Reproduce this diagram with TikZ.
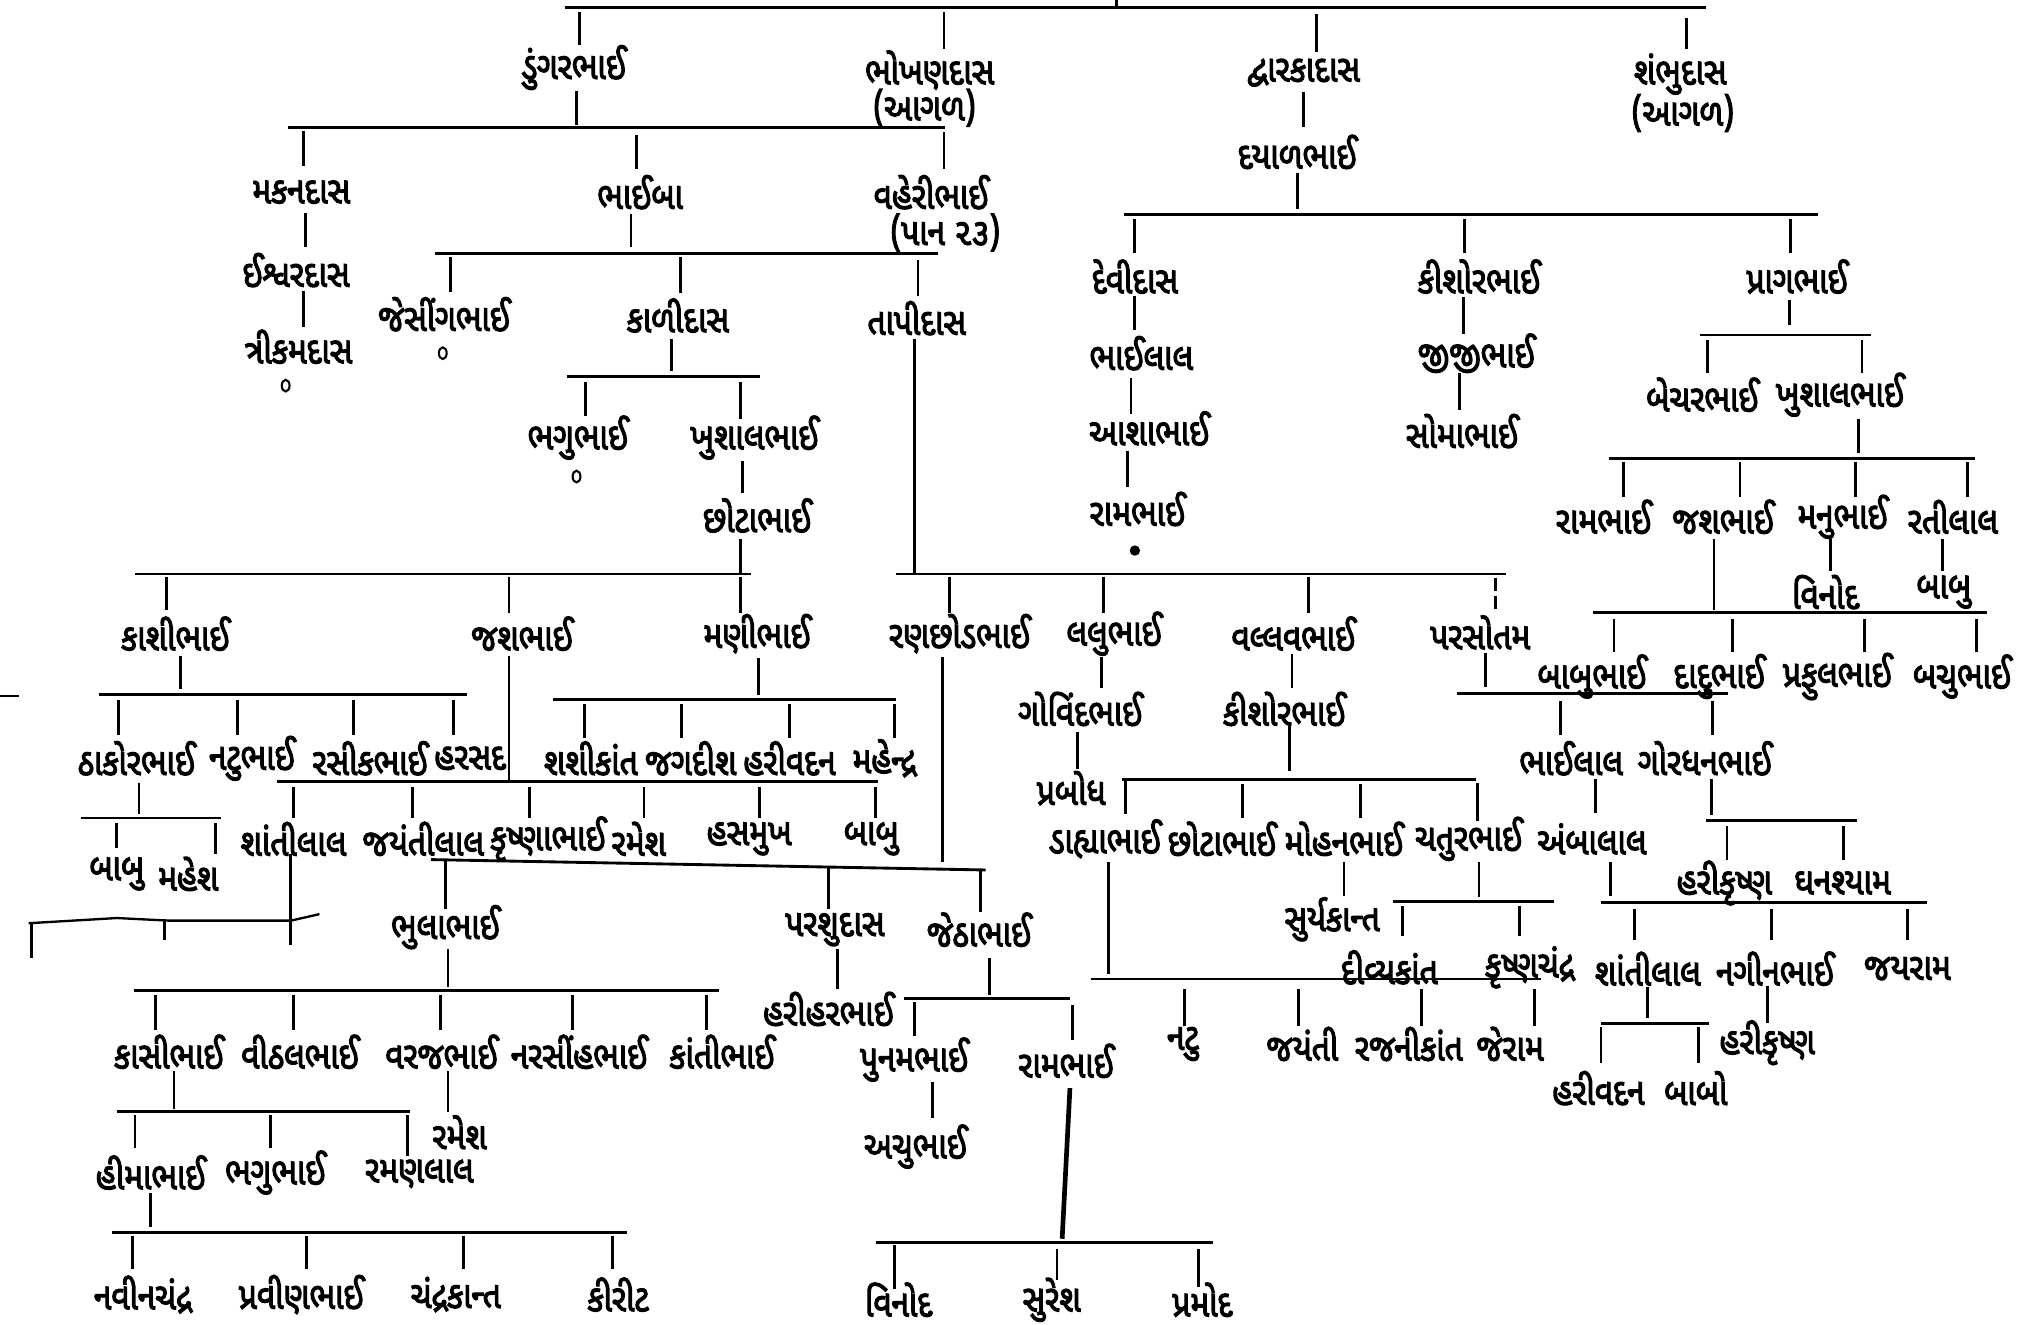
\documentclass[tikz,border=0pt]{standalone}
\usepackage{fontspec}
\newfontfamily\guj[Script=Gujarati,FakeBold=3,FakeStretch=0.84]{Noto Sans Gujarati UI}
\usetikzlibrary{shapes.geometric}
\tikzset{
  nm/.style={font=\guj\fontsize{29}{31}\selectfont, inner sep=0pt},
  ln/.style={line width=2.2pt, line cap=butt},
  zero/.style={draw, ellipse, line width=1.6pt, minimum width=6pt, minimum height=9pt, inner sep=0pt},
  blob/.style={fill, circle, minimum size=8pt, inner sep=0pt},
}
\newcommand{\vln}[3]{\draw[ln] (#1,#2) -- (#1,#3);}
\newcommand{\hln}[3]{\draw[ln] (#2,#1) -- (#3,#1);}
\begin{document}
\begin{tikzpicture}[x=1pt,y=-1pt]
\fill[white] (0,0) rectangle (1568,1020);
\useasboundingbox (0,0) rectangle (1568,1020);

% ---------- top ----------
\draw[ln] (860,0) -- (860,6);
\hln{6}{435}{1314}
\vln{446}{9}{35} \vln{727}{9}{38} \vln{1014}{11}{40} \vln{1299}{14}{38}
\node[nm] (dungar) at (442,52) {ડુંગરભાઈ};
\node[nm] (bhikhan) at (716,54) {ભોખણદાસ};
\node[nm] (bhikhanB) at (712,83) {(આગળ)};
\node[nm] (dwarka) at (1004,56) {દ્વારકાદાસ};
\node[nm] (shambhu) at (1294,57) {શંભુદાસ};
\node[nm] (shambhuB) at (1296,87) {(આગળ)};

% ---------- Dungarbhai ----------
\vln{444}{70}{96}
\hln{98}{222}{728}
\vln{234}{101}{128} \vln{490}{104}{130} \vln{727}{102}{130}
\node[nm] (makan) at (232,148) {મકનદાસ};
\node[nm] (bhaiba) at (493,148) {ભાઈબા};
\node[nm] (vaheri) at (717,148) {વહેરીભાઈ};
\node[nm] (vaheriB) at (728,179) {(પાન ૨૩)};
\vln{235}{164}{190}
\node[nm] (ishvar) at (228,208) {ઈશ્વરદાસ};
\vln{234}{224}{252}
\node[nm] (trikam) at (230,267) {ત્રીકમદાસ};
\node[zero] (z1) at (220,297) {};
\vln{486}{165}{190}
\hln{195}{335}{722}
\vln{347}{198}{225} \vln{524}{198}{226} \vln{707}{200}{228}
\node[nm] (jesing) at (342,242) {જેસીંગભાઈ};
\node[zero] (z2) at (341,272) {};
\node[nm] (kali) at (522,243) {કાળીદાસ};
\node[nm] (tapi) at (706,245) {તાપીદાસ};
\vln{517}{261}{286}
\hln{290}{437}{585}
\vln{451}{294}{320} \vln{570}{294}{323}
\node[nm] (bhagu1) at (445,337) {ભગુભાઈ};
\node[zero] (z3) at (444,367) {};
\node[nm] (khushal1) at (581,337) {ખુશાલભાઈ};
\vln{572}{355}{380}
\node[nm] (chhota1) at (583,397) {છોટાભાઈ};
\vln{570}{415}{442}
\vln{704}{261}{442}
\hln{442}{104}{578}
\hln{442}{690}{1160}
\vln{128}{444}{470} \vln{392}{444}{472} \vln{570}{444}{472}
\node[nm] (kashi) at (135,488) {કાશીભાઈ};
\node[nm] (jash) at (402,488) {જશભાઈ};
\node[nm] (mani) at (583,488) {મણીભાઈ};
\vln{731}{444}{472} \vln{850}{444}{472} \vln{1008}{444}{472}
\draw[ln,dash pattern=on 10pt off 4pt] (1152,445) -- (1152,469);
\node[nm] (ranchhod) at (739,488) {રણછોડભાઈ};
\node[nm] (lalu) at (858,488) {લલુભાઈ};
\node[nm] (vallabh) at (996,488) {વલ્લવભાઈ};
\node[nm] (parsotam) at (1140,487) {પરસોતમ};

% ---------- Dwarkadas ----------
\vln{1004}{71}{98}
\node[nm] (dayal) at (999,117) {દયાળભાઈ};
\vln{999}{133}{161}
\hln{165}{866}{1400}
\vln{874}{169}{195} \vln{1128}{169}{195} \vln{1379}{169}{195}
\node[nm] (devi) at (874,213) {દેવીદાસ};
\node[nm] (kishor1) at (1139,213) {કીશોરભાઈ};
\node[nm] (prag) at (1384,213) {પ્રાગભાઈ};
\vln{874}{228}{254}
\node[nm] (bhailal1) at (879,272) {ભાઈલાલ};
\vln{871}{291}{319}
\node[nm] (asha) at (885,330) {આશાભાઈ};
\vln{868}{347}{375}
\node[nm] (ram1) at (876,392) {રામભાઈ};
\node[blob] (dot1) at (874,424) {};
\vln{1127}{229}{257}
\node[nm] (jiji) at (1137,272) {જીજીભાઈ};
\vln{1124}{287}{316}
\node[nm] (soma) at (1126,332) {સોમાભાઈ};
\vln{1378}{231}{250}
\hln{258}{1309}{1441}
\vln{1315}{262}{287} \vln{1434}{262}{287}
\node[nm] (bechar) at (1311,304) {બેચરભાઈ};
\node[nm] (khushal2) at (1417,304) {ખુશાલભાઈ};
\vln{1431}{323}{349}
\hln{353}{1239}{1521}
\vln{1250}{356}{383} \vln{1340}{356}{383} \vln{1429}{356}{383} \vln{1515}{356}{383}
\node[nm] (ramR) at (1235,398) {રામભાઈ};
\node[nm] (jashR) at (1327,398) {જશભાઈ};
\node[nm] (manu) at (1419,398) {મનુભાઈ};
\node[nm] (rati) at (1504,398) {રતીલાલ};
\vln{1320}{415}{470}
\hln{472}{1227}{1530}
\vln{1243}{477}{502} \vln{1334}{477}{502} \vln{1436}{477}{502} \vln{1522}{477}{502}
\node[nm] (babubhai) at (1226,521) {બાબુભાઈ};
\node[nm] (dadu) at (1324,521) {દાદુભાઈ};
\node[nm] (praful) at (1415,521) {પ્રફુલભાઈ};
\node[nm] (bachu) at (1511,521) {બચુભાઈ};
\vln{1410}{415}{440}
\node[nm] (vinodR) at (1406,456) {વિનોદ};
\vln{1496}{415}{440}
\node[nm] (babuR) at (1497,456) {બાબુ};

% ---------- Parsotam ----------
\vln{1144}{503}{529}
\hln{534}{1122}{1331}
\vln{1202}{540}{566} \vln{1319}{540}{566}
\node[nm] (bhailal2) at (1210,584) {ભાઈલાલ};
\node[nm] (gordhan) at (1313,584) {ગોરધનભાઈ};
\vln{1229}{600}{626}
\node[nm] (ambalal) at (1226,646) {અંબાલાલ};
\vln{1318}{600}{628}
\hln{632}{1314}{1430}
\vln{1330}{636}{662} \vln{1420}{636}{662}
\node[nm] (harikrishna1) at (1328,680) {હરીકૃષ્ણ};
\node[nm] (ghanshyam) at (1419,680) {ઘનશ્યામ};
\vln{1240}{664}{690}
\hln{695}{1233}{1484}
\vln{1259}{700}{724} \vln{1364}{700}{724} \vln{1469}{700}{724}
\node[nm] (shanti2) at (1269,746) {શાંતીલાલ};
\node[nm] (nagin) at (1367,746) {નગીનભાઈ};
\node[nm] (jayram) at (1469,746) {જયરામ};
\vln{1269}{760}{784}
\hln{788}{1233}{1316}
\vln{1233}{791}{819} \vln{1308}{791}{819}
\node[nm] (harivadan2) at (1231,838) {હરીવદન};
\node[nm] (babo) at (1306,838) {બાબો};
\vln{1361}{759}{788}
\node[nm] (harikrishna2) at (1361,803) {હરીકૃષ્ણ};

% ---------- Lalubhai / Vallabhbhai ----------
\vln{848}{506}{530}
\node[nm] (govind) at (832,546) {ગોવિંદભાઈ};
\vln{830}{564}{592}
\node[nm] (prabodh) at (825,607) {પ્રબોધ};
\vln{995}{504}{530}
\node[nm] (kishor2) at (989,546) {કીશોરભાઈ};
\vln{993}{559}{594}
\hln{600}{864}{1137}
\vln{867}{600}{627} \vln{957}{604}{630} \vln{1048}{604}{630} \vln{1138}{603}{632}
\node[nm] (dahya) at (851,646) {ડાહ્યાભાઈ};
\node[nm] (chhota2) at (941,646) {છોટાભાઈ};
\node[nm] (mohan) at (1035,646) {મોહનભાઈ};
\node[nm] (chatur) at (1131,646) {ચતુરભાઈ};
\vln{854}{664}{750}
\hln{754}{840}{1187}
\vln{912}{762}{790} \vln{1000}{762}{790} \vln{1095}{762}{790} \vln{1182}{762}{790}
\node[nm] (natu) at (911,804) {નટુ};
\node[nm] (jayanti) at (1003,804) {જયંતી};
\node[nm] (rajni) at (1085,804) {રજનીકાંત};
\node[nm] (jeram) at (1163,804) {જેરામ};
\vln{1035}{664}{690}
\node[nm] (surya) at (1026,708) {સુર્યકાન્ત};
\vln{1139}{664}{691}
\hln{694}{1073}{1197}
\vln{1080}{698}{721} \vln{1170}{698}{721}
\node[nm] (divya) at (1070,745) {દીવ્યકાંત};
\node[nm] (krishnachandra) at (1178,745) {કૃષ્ણચંદ્ર};

% ---------- Kashibhai ----------
\draw[ln] (0,536) -- (15,536);
\vln{139}{505}{531}
\hln{535}{76}{360}
\vln{91}{539}{566} \vln{183}{539}{566} \vln{272}{539}{566} \vln{349}{539}{566}
\node[nm] (thakor) at (105,584) {ઠાકોરભાઈ};
\node[nm] (natubhai) at (194,584) {નટુભાઈ};
\node[nm] (rasik) at (285,584) {રસીકભાઈ};
\node[nm] (harsad) at (362,584) {હરસદ};
\vln{107}{603}{627}
\hln{630}{62}{170}
\vln{90}{634}{653} \vln{166}{634}{658}
\node[nm] (babu1) at (90,673) {બાબુ};
\node[nm] (mahesh) at (145,673) {મહેશ};

% ---------- Jashbhai ----------
\vln{392}{505}{601}
\hln{602}{213}{676}
\vln{226}{606}{630} \vln{318}{606}{630} \vln{408}{606}{630} \vln{496}{606}{630} \vln{585}{606}{630} \vln{674}{606}{630}
\node[nm] (shanti1) at (226,646) {શાંતીલાલ};
\node[nm] (jayantilal) at (326,646) {જયંતીલાલ};
\node[nm] (krishnabhai) at (422,646) {કૃષ્ણાભાઈ};
\node[nm] (ramesh1) at (492,646) {રમેશ};
\node[nm] (hasmukh) at (577,646) {હસમુખ};
\node[nm] (babu2) at (671,646) {બાબુ};

% ---------- Manibhai ----------
\vln{584}{507}{535}
\hln{539}{426}{690}
\vln{450}{542}{568} \vln{525}{542}{568} \vln{608}{542}{568} \vln{689}{542}{568}
\node[nm] (shashi) at (455,584) {શશીકાંત};
\node[nm] (jagdish) at (532,584) {જગદીશ};
\node[nm] (harivadan1) at (608,584) {હરીવદન};
\node[nm] (mahendra) at (681,584) {મહેન્દ્ર};

% ---------- hand-drawn additions ----------
\vln{224}{658}{728}
\draw[ln,line width=1.8pt] (22,711) -- (90,707) -- (130,709) -- (224,709) -- (246,704);
\vln{24}{710}{738} \vln{127}{708}{724}

% ---------- Ranchhodbhai ----------
\vln{726}{506}{664}
\draw[ln] (332,662) -- (759,670);
\vln{343}{663}{700} \vln{638}{668}{700} \vln{755}{670}{702}
\node[nm] (bhula) at (343,714) {ભુલાભાઈ};
\node[nm] (parshu) at (643,716) {પરશુદાસ};
\node[nm] (jetha) at (754,716) {જેઠાભાઈ};
\vln{345}{731}{760}
\hln{763}{103}{554}
\vln{120}{766}{793} \vln{226}{766}{793} \vln{339}{766}{793} \vln{441}{766}{793} \vln{544}{766}{793}
\node[nm] (kasi) at (130,810) {કાસીભાઈ};
\node[nm] (vithal) at (231,810) {વીઠલભાઈ};
\node[nm] (varaj) at (340,810) {વરજભાઈ};
\node[nm] (narsinh) at (446,810) {નરસીંહભાઈ};
\node[nm] (kanti) at (556,810) {કાંતીભાઈ};
\vln{134}{825}{854}
\hln{856}{90}{316}
\vln{104}{859}{884} \vln{208}{859}{884} \vln{314}{859}{890}
\node[nm] (hima) at (116,903) {હીમાભાઈ};
\node[nm] (bhagu2) at (212,903) {ભગુભાઈ};
\node[nm] (raman) at (323,904) {રમણલાલ};
\vln{345}{825}{856}
\node[nm] (ramesh2) at (354,872) {રમેશ};
\vln{116}{919}{945}
\hln{949}{86}{483}
\vln{102}{952}{977} \vln{236}{952}{977} \vln{357}{952}{977} \vln{472}{952}{977}
\node[nm] (navin) at (110,997) {નવીનચંદ્ર};
\node[nm] (pravin) at (232,997) {પ્રવીણભાઈ};
\node[nm] (chandrakant) at (351,997) {ચંદ્રકાન્ત};
\node[nm] (kirit) at (476,997) {કીરીટ};

\vln{645}{731}{762}
\node[nm] (harihar) at (638,777) {હરીહરભાઈ};
\vln{762}{738}{766}
\hln{769}{696}{824}
\vln{704}{772}{798} \vln{826}{774}{801}
\node[nm] (punam) at (704,816) {પુનમભાઈ};
\node[nm] (ram2) at (821,817) {રામભાઈ};
\vln{718}{833}{861}
\node[nm] (achu) at (705,883) {અચુભાઈ};
\draw[ln,line width=3.6pt] (824,838) -- (818,954);
\hln{957}{675}{934}
\vln{689}{959}{993} \vln{814}{962}{986} \vln{923}{962}{991}
\node[nm] (vinod2) at (692,1001) {વિનોદ};
\node[nm] (suresh) at (810,1001) {સુરેશ};
\node[nm] (pramod) at (926,1001) {પ્રમોદ};
\end{tikzpicture}
\end{document}
